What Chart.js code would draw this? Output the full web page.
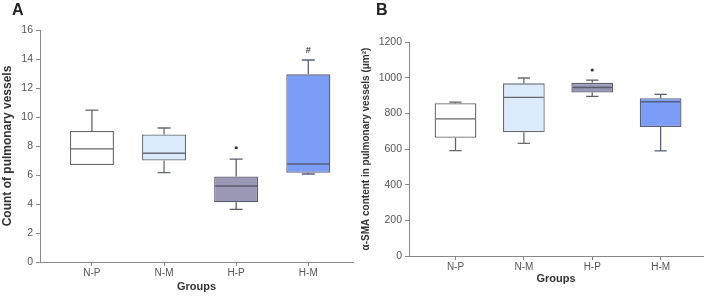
<!DOCTYPE html>
<html>
<head>
<meta charset="utf-8">
<script src="https://cdn.jsdelivr.net/npm/chart.js@4.4.1/dist/chart.umd.min.js"></script>
<style>
  html, body { margin: 0; padding: 0; background: #fff; }
  #wrap { position: relative; width: 708px; height: 296px; overflow: hidden; }
  .panel { position: absolute; top: 0; height: 296px; }
  .letter { position: absolute; top: 1px; font: bold 16px "Liberation Sans", Arial, sans-serif; color: #222; }
</style>
</head>
<body>
<div id="wrap">
  <div class="panel" style="left:0;width:360px"><canvas id="chartA" width="360" height="296"></canvas></div>
  <div class="panel" style="left:360px;width:348px"><canvas id="chartB" width="348" height="296"></canvas></div>
  <div class="letter" style="left:12px">A</div>
  <div class="letter" style="left:376px">B</div>
</div>
<script>
const groups = ['N-P', 'N-M', 'H-P', 'H-M'];
const boxColors = ['#ffffff', '#dcebfb', '#9a99b5', '#7b9cf7'];
const edgeColors = ['#666666', '#666a72', '#5b5b70', '#56607e'];

// panel A: count of pulmonary vessels
const countTicks = [0, 2, 4, 6, 8, 10, 12, 14, 16];
const countMin = [6.69, 6.16, 3.63, 6.07];
const countQ1 = [6.69, 7.0, 4.12, 6.16];
const countMedian = [7.8, 7.5, 5.24, 6.76];
const countQ3 = [9.03, 8.8, 5.9, 12.94];
const countMax = [10.48, 9.24, 7.1, 13.93];
const countMarkY = [null, null, 7.88, 14.6];
const countMarkText = ['', '', '*', '#'];

// panel B: alpha-SMA content
const smaTicks = [0, 200, 400, 600, 800, 1000, 1200];
const smaMin = [591, 631, 895, 590];
const smaQ1 = [663, 694, 917, 724];
const smaMedian = [769, 889, 945, 865];
const smaQ3 = [857, 968, 971, 885];
const smaMax = [863, 998, 986, 906];
const smaMarkY = [null, null, 1043, null];
const smaMarkText = ['', '', '*', ''];

const FONT = '"Liberation Sans", Arial, sans-serif';

const boxPlugin = {
  id: 'boxWhisker',
  afterDatasetsDraw(chart, args, opts) {
    const { ctx } = chart;
    const xs = chart.scales.x, ys = chart.scales.y;
    const capHalf = Math.abs(xs.getPixelForValue(opts.cap / 2) - xs.getPixelForValue(0));
    const boxHalf = chart.getDatasetMeta(0).data[0].width / 2;
    ctx.save();
    ctx.lineWidth = 1.3;
    groups.forEach((g, i) => {
      const x = xs.getPixelForValue(i);
      ctx.strokeStyle = edgeColors[i];
      const yq1 = ys.getPixelForValue(opts.q1[i]);
      const yq3 = ys.getPixelForValue(opts.q3[i]);
      const ymin = ys.getPixelForValue(opts.min[i]);
      const ymax = ys.getPixelForValue(opts.max[i]);
      ctx.beginPath();
      if (opts.max[i] > opts.q3[i]) {
        ctx.moveTo(x, yq3); ctx.lineTo(x, ymax);
        ctx.moveTo(x - capHalf, ymax); ctx.lineTo(x + capHalf, ymax);
      }
      if (opts.min[i] < opts.q1[i]) {
        ctx.moveTo(x, yq1); ctx.lineTo(x, ymin);
        ctx.moveTo(x - capHalf, ymin); ctx.lineTo(x + capHalf, ymin);
      }
      const ymed = ys.getPixelForValue(opts.median[i]);
      ctx.moveTo(x - boxHalf + 1, ymed); ctx.lineTo(x + boxHalf - 1, ymed);
      ctx.stroke();
      if (opts.markY[i] != null) {
        const ym = ys.getPixelForValue(opts.markY[i]);
        ctx.fillStyle = '#333';
        if (opts.markText[i] === '*') {
          ctx.beginPath(); ctx.arc(x, ym, 1.6, 0, Math.PI * 2); ctx.fill();
        } else {
          ctx.font = 'bold 9px ' + FONT;
          ctx.textAlign = 'center'; ctx.textBaseline = 'middle';
          ctx.fillText(opts.markText[i], x, ym);
        }
      }
    });
    ctx.restore();
  }
};

function makeBox(id, cfg) {
  return new Chart(document.getElementById(id), {
    type: 'bar',
    data: {
      datasets: [{
        data: groups.map((g, i) => ({ x: i, y: [cfg.q1[i], cfg.q3[i]] })),
        backgroundColor: boxColors,
        borderColor: edgeColors,
        borderWidth: 1.3,
        borderSkipped: false,
        barPercentage: 0.61,
        categoryPercentage: 1
      }]
    },
    options: {
      responsive: false,
      animation: false,
      layout: { padding: cfg.padding },
      plugins: {
        legend: { display: false },
        tooltip: { enabled: false },
        boxWhisker: cfg
      },
      scales: {
        x: {
          type: 'linear',
          bounds: 'data',
          offset: false,
          min: cfg.xMin, max: cfg.xMax,
          afterBuildTicks: s => { s.ticks = groups.map((g, i) => ({ value: i })); },
          afterFit: s => { s.height = cfg.xHeight; },
          ticks: { callback: v => groups[v] ?? '', color: '#555', font: { size: 10, family: FONT }, padding: 1, maxRotation: 0 },
          grid: { offset: false, drawOnChartArea: false, tickLength: 4, color: '#888' },
          border: { color: '#888', width: 1 },
          title: { display: true, text: 'Groups', color: '#333', font: { size: 11, weight: 'bold', family: FONT }, padding: { top: 2, bottom: 2 } }
        },
        y: {
          bounds: 'data',
          min: cfg.yTicks[0], max: cfg.yTicks[cfg.yTicks.length - 1],
          afterBuildTicks: s => { s.ticks = cfg.yTicks.map(v => ({ value: v })); },
          afterFit: s => { s.width = cfg.yWidth; },
          ticks: { callback: v => String(v), color: '#555', font: { size: 10.5, family: FONT }, padding: 3 },
          grid: { drawOnChartArea: false, tickLength: 4, color: '#888' },
          border: { color: '#888', width: 1 },
          title: { display: true, text: cfg.yTitle, color: '#333', font: { size: cfg.yTitleSize, weight: 'bold', family: FONT }, padding: { top: 0, bottom: 0 } }
        }
      }
    },
    plugins: [boxPlugin]
  });
}

makeBox('chartA', {
  q1: countQ1, q3: countQ3, min: countMin, max: countMax, median: countMedian,
  markY: countMarkY, markText: countMarkText, yTicks: countTicks, cap: 0.18,
  yTitle: 'Count of pulmonary vessels', yTitleSize: 12,
  xMin: -0.72, xMax: 3.62, yWidth: 40, xHeight: 34,
  padding: { top: 30, right: 7, left: 0, bottom: 0 }
});

makeBox('chartB', {
  q1: smaQ1, q3: smaQ3, min: smaMin, max: smaMax, median: smaMedian,
  markY: smaMarkY, markText: smaMarkText, yTicks: smaTicks, cap: 0.18,
  yTitle: 'α-SMA content in pulmonary vessels (μm²)', yTitleSize: 10,
  xMin: -0.68, xMax: 3.62, yWidth: 49, xHeight: 32,
  padding: { top: 42, right: 5, left: 0, bottom: 8 }
});
</script>
</body>
</html>
